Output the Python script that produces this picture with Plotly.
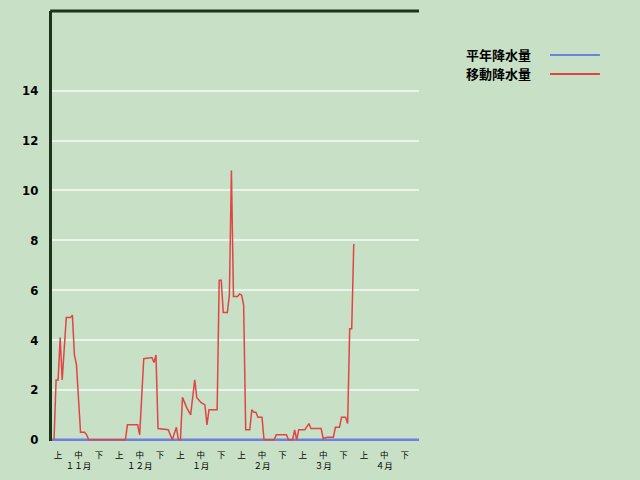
import plotly.graph_objects as go

# ---- data (x = day index from start of November, 10 days per dekad) ----
moving_days = [1, 2, 3, 4, 5, 7, 9, 10, 11, 12, 14, 16, 17, 18, 36, 37, 42, 43, 45,
               49, 50, 51, 52, 57, 59, 61, 62, 63, 64, 66, 68, 70, 71, 73, 75, 76, 77,
               81, 82, 83, 84, 86, 87, 88, 89, 91, 92, 93, 94, 95, 97, 98, 99, 100,
               101, 103, 104, 109, 110, 115, 116, 118, 119, 120, 121, 124, 126, 127,
               132, 133, 135, 138, 139, 141, 142, 144, 145, 146, 147, 148]
moving_values = [0.0, 2.4, 2.4, 4.1, 2.4, 4.9, 4.9, 5.0, 3.4, 3.0, 0.3, 0.3, 0.2, 0.0,
                 0.0, 0.6, 0.6, 0.2, 3.25, 3.3, 3.1, 3.4, 0.45, 0.4, 0.0, 0.5, 0.0, 0.0,
                 1.7, 1.3, 1.0, 2.4, 1.7, 1.5, 1.4, 0.6, 1.2, 1.2, 6.4, 6.4, 5.1, 5.1,
                 5.8, 10.8, 5.75, 5.75, 5.85, 5.8, 5.4, 0.4, 0.4, 1.2, 1.1, 1.1, 0.9,
                 0.9, 0.0, 0.0, 0.2, 0.2, 0.0, 0.0, 0.4, 0.0, 0.4, 0.4, 0.65, 0.45,
                 0.45, 0.05, 0.1, 0.1, 0.5, 0.5, 0.9, 0.9, 0.65, 4.45, 4.45, 7.85]

normal_days = [0, 180]
normal_values = [0.0, 0.0]

months = ["１１月", "１２月", "１月", "２月", "３月", "４月"]
dekads = ["上", "中", "下"]
y_ticks = [0, 2, 4, 6, 8, 10, 12, 14]

series_names = ["平年降水量", "移動降水量"]
series_colors = ["#7080E0", "#E04545"]

# ---- ticks ----
tickvals, ticktext = [], []
for mi, m in enumerate(months):
    for di, d in enumerate(dekads):
        tickvals.append(mi * 30 + di * 10 + 3)
        ticktext.append(d + "<br>" + m if di == 1 else d)

fig = go.Figure()
fig.add_trace(go.Scatter(x=normal_days, y=normal_values, mode="lines",
                         name=series_names[0],
                         line=dict(color=series_colors[0], width=2.5)))
fig.add_trace(go.Scatter(x=moving_days, y=moving_values, mode="lines",
                         name=series_names[1],
                         line=dict(color=series_colors[1], width=1.5)))

bg = "#C8E0C6"
dark = "#1C331C"

fig.update_layout(
    width=640, height=480,
    paper_bgcolor=bg, plot_bgcolor=bg,
    margin=dict(l=44, r=229, t=3, b=47, autoexpand=False),
    showlegend=False,
    xaxis=dict(range=[0, 180], tickvals=tickvals, ticktext=ticktext,
               showgrid=False, zeroline=False, showline=False,
               ticks="", ticklabelstandoff=7, automargin=False,
               tickfont=dict(family="Noto Sans CJK JP", size=8.5, color="#000000")),
    yaxis=dict(range=[-0.05, 17.2], tickvals=y_ticks,
               showgrid=True, gridcolor="#EAF5EA", gridwidth=2,
               zeroline=False, showline=True, linecolor=dark, linewidth=3,
               ticks="", ticklabelstandoff=8, automargin=False,
               tickfont=dict(family="Liberation Sans Narrow, DejaVu Sans Condensed, sans-serif",
                             size=13, color="#000000", weight="bold")),
)

# top border
fig.add_shape(type="line", xref="paper", yref="paper", x0=-0.005, x1=1.0, y0=1, y1=1,
              line=dict(color=dark, width=3))

# legend drawn to the right (text then line sample)
legend_y = [0.8977, 0.8535]
for name, color, ly in zip(series_names, series_colors, legend_y):
    fig.add_annotation(xref="paper", yref="paper", x=1.311, y=ly, text=name,
                       showarrow=False, xanchor="right", yanchor="middle",
                       font=dict(family="Noto Sans CJK JP", size=13, color="#000000",
                                 weight="bold"))
    fig.add_shape(type="line", xref="paper", yref="paper", x0=1.357, x1=1.493,
                  y0=ly, y1=ly, line=dict(color=color, width=2))

fig.write_html("out.html",
               post_script="document.body.style.background='" + bg + "';")
